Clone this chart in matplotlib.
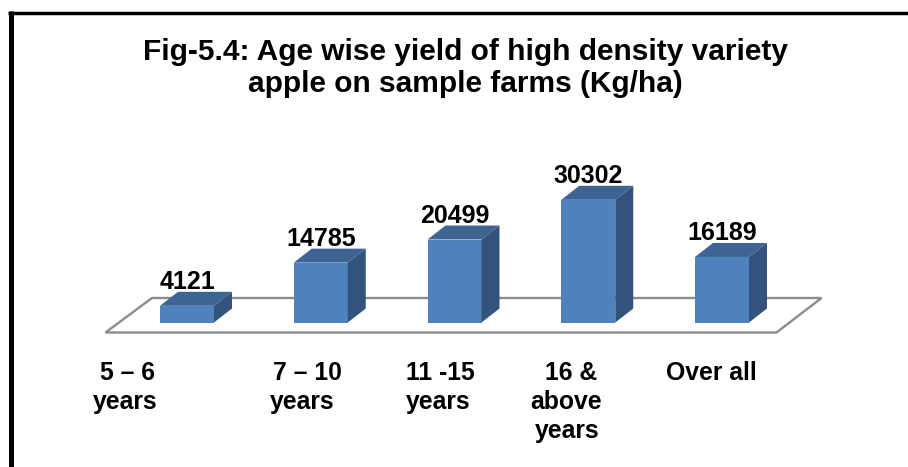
import matplotlib
matplotlib.use('Agg')
import matplotlib.pyplot as plt
from matplotlib.patches import Polygon, Rectangle

categories = [['5 – 6', 'years'], ['7 – 10', 'years'], ['11 -15', 'years'],
              ['16 &', 'above', 'years'], ['Over all']]
values = [4121, 14785, 20499, 30302, 16189]
title = 'Fig-5.4: Age wise yield of high density variety\napple on sample farms (Kg/ha)'

plt.rcParams['font.family'] = ['Liberation Sans', 'DejaVu Sans']

W, H = 908, 467
BASE_Y = 322.5      # pixel row of value 0
X0 = 187.0          # pixel column of first category centre
STEP = 133.75       # pixels per category
PER_PX = 247.0      # kg/ha per pixel

fig = plt.figure(figsize=(W / 100, H / 100), dpi=100)
ax = fig.add_axes([0, 0, 1, 1])
ax.set_xlim(-X0 / STEP, (W - X0) / STEP)
ax.set_ylim(-(H - BASE_Y) * PER_PX, BASE_Y * PER_PX)
ax.axis('off')


def px(x, y):
    # picture pixels to data units, for the text and the floor
    return (x - X0) / STEP, (BASE_Y - y) * PER_PX


bar_w = 54 / STEP
dx = 18 / STEP
dy = 14 * PER_PX

# floor of the 3d chart
floor = [px(105.5, 332.5), px(776.5, 332.5), px(821.5, 298), px(152, 298)]
ax.add_patch(Polygon(floor, closed=True, fc='white', ec='#8c8c8c', lw=1.7, zorder=1))

for i, v in enumerate(values):
    l = i - bar_w / 2
    r = i + bar_w / 2
    ax.add_patch(Rectangle((l, 0), bar_w, v, fc='#4f81bd', ec='none', zorder=3))
    ax.add_patch(Polygon([(l, v), (r, v), (r + dx, v + dy), (l + dx, v + dy)],
                         fc='#3e6494', ec='none', zorder=3))
    ax.add_patch(Polygon([(r, 0), (r + dx, dy), (r + dx, v + dy), (r, v)],
                         fc='#32547c', ec='none', zorder=3))
    ax.text(i, v + dy + 3 * PER_PX, str(v), ha='center', va='baseline',
            fontsize=18, fontweight='bold', color='black', zorder=4)

# the source labels are not centred, each line has its own left edge
line_left = [[100, 93], [273, 270], [406, 406], [545, 530, 535], [666]]
for lines, lefts in zip(categories, line_left):
    for k, (s, left) in enumerate(zip(lines, lefts)):
        x, y = px(left, 380 + 29 * k)
        ax.text(x, y, s, ha='left', va='baseline', fontsize=17.8,
                fontweight='bold', color='black')

x, y = px(465.5, 92)
ax.text(x, y, title, ha='center', va='baseline', fontsize=21.55,
        fontweight='bold', linespacing=1.16, color='black')

# outer chart border, cut off at the right and bottom of the scan
ax.plot([10.8 / W, 10.8 / W], [0, 1 - 11 / H], transform=ax.transAxes,
        color='black', lw=3.6, solid_capstyle='butt')
ax.plot([8.3 / W, 1], [1 - 12.8 / H, 1 - 12.8 / H], transform=ax.transAxes,
        color='black', lw=2.5, solid_capstyle='butt')

fig.savefig('out.png', dpi=100)
